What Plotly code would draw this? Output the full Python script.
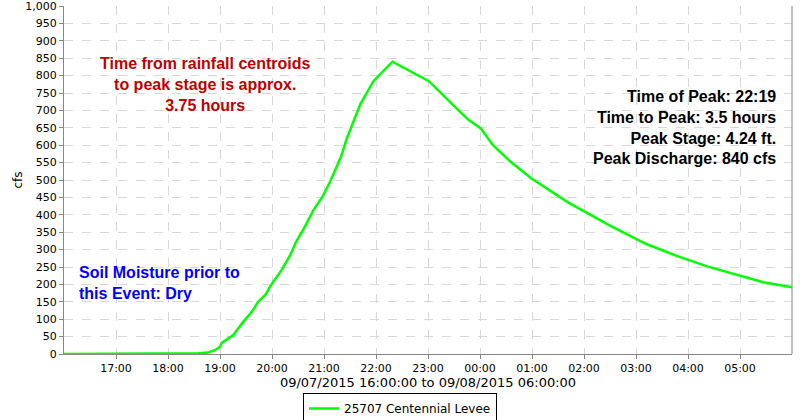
import plotly.graph_objects as go

times = [
    "2015-09-07 16:00", "2015-09-07 17:00", "2015-09-07 18:00", "2015-09-07 18:35",
    "2015-09-07 18:46", "2015-09-07 18:54", "2015-09-07 19:00", "2015-09-07 19:02",
    "2015-09-07 19:08", "2015-09-07 19:15", "2015-09-07 19:27", "2015-09-07 19:37",
    "2015-09-07 19:44", "2015-09-07 19:53", "2015-09-07 19:58", "2015-09-07 20:11",
    "2015-09-07 20:21", "2015-09-07 20:28", "2015-09-07 20:38", "2015-09-07 20:48",
    "2015-09-07 20:59", "2015-09-07 21:07", "2015-09-07 21:20", "2015-09-07 21:26",
    "2015-09-07 21:42", "2015-09-07 21:57", "2015-09-07 22:19", "2015-09-07 23:01",
    "2015-09-07 23:37", "2015-09-07 23:47", "2015-09-08 00:01", "2015-09-08 00:15",
    "2015-09-08 00:35", "2015-09-08 00:59", "2015-09-08 01:42", "2015-09-08 02:03",
    "2015-09-08 02:30", "2015-09-08 03:12", "2015-09-08 03:47", "2015-09-08 04:23",
    "2015-09-08 04:56", "2015-09-08 05:27", "2015-09-08 06:00",
]
flow_cfs = [
    0, 0, 1, 2,
    4, 11, 21, 32,
    42, 54, 93, 122,
    150, 172, 195, 241,
    284, 323, 366, 414,
    455, 495, 569, 617,
    718, 784, 840, 784,
    696, 672, 648, 600,
    553, 505, 435, 407,
    369, 316, 282, 251,
    227, 206, 192,
]

tick_times = [
    "2015-09-07 17:00", "2015-09-07 18:00", "2015-09-07 19:00", "2015-09-07 20:00",
    "2015-09-07 21:00", "2015-09-07 22:00", "2015-09-07 23:00", "2015-09-08 00:00",
    "2015-09-08 01:00", "2015-09-08 02:00", "2015-09-08 03:00", "2015-09-08 04:00",
    "2015-09-08 05:00",
]
tick_labels = ["17:00", "18:00", "19:00", "20:00", "21:00", "22:00", "23:00",
               "00:00", "01:00", "02:00", "03:00", "04:00", "05:00"]
y_ticks = list(range(0, 1001, 50))

series_name = "25707 Centennial Levee"
x_title = "09/07/2015 16:00:00 to 09/08/2015 06:00:00"

fig = go.Figure()
fig.add_trace(go.Scatter(
    x=times, y=flow_cfs, mode="lines", name=series_name,
    line=dict(color="#00ff00", width=2.5),
    cliponaxis=False,
))

fig.update_layout(
    width=800, height=420,
    margin=dict(l=64, r=8, t=6, b=66, autoexpand=False),
    paper_bgcolor="white", plot_bgcolor="white",
    font=dict(family="DejaVu Sans", color="black", size=11),
    showlegend=True,
    legend=dict(
        orientation="h", x=(400 - 64) / 728, xanchor="center",
        y=-(393 - 354) / 348, yanchor="top",
        bordercolor="black", borderwidth=1, font=dict(size=12, family="DejaVu Sans"),
        itemwidth=30, tracegroupgap=0,
    ),
)
fig.update_xaxes(
    type="date", automargin=False,
    range=["2015-09-07 16:00", "2015-09-08 06:00"],
    tickvals=tick_times, ticktext=tick_labels,
    showgrid=True, gridcolor="#d8d8d8", griddash="dash", gridwidth=1,
    showline=True, linecolor="#888888", linewidth=1, mirror=False,
    ticks="outside", ticklen=4, tickcolor="#888888",
    tickfont=dict(size=11),
    title=dict(text=x_title, font=dict(size=13), standoff=1),
    zeroline=False,
)
fig.update_yaxes(
    range=[0, 1000], tickvals=y_ticks, tickformat=",", automargin=False,
    ticklabeloverflow="allow",
    showgrid=True, gridcolor="#d8d8d8", griddash="dash", gridwidth=1,
    showline=True, linecolor="#888888", linewidth=1,
    ticks="outside", ticklen=4, tickcolor="#888888",
    tickfont=dict(size=11),
    title=dict(text="cfs", font=dict(size=12), standoff=0),
    zeroline=False,
)
# right border of plot area
fig.add_shape(type="line", xref="paper", yref="paper", x0=1, x1=1, y0=0, y1=1,
              line=dict(color="#888888", width=1))

fig.add_annotation(
    xref="paper", yref="paper", x=(205 - 64) / 728, y=(354 - 84) / 348,
    text="<b>Time from rainfall centroids<br>to peak stage is approx.<br>3.75 hours</b>",
    showarrow=False, align="center", xanchor="center", yanchor="middle",
    font=dict(family="Liberation Sans", size=16, color="#c00000"),
)
fig.add_annotation(
    xref="paper", yref="paper", x=(778 - 64) / 728, y=(354 - 127) / 348,
    text="<b>Time of Peak: 22:19<br>Time to Peak: 3.5 hours<br>Peak Stage: 4.24 ft.<br>Peak Discharge: 840 cfs</b>",
    showarrow=False, align="right", xanchor="right", yanchor="middle",
    font=dict(family="Liberation Sans", size=16, color="black"),
)
fig.add_annotation(
    xref="paper", yref="paper", x=(77 - 64) / 728, y=(354 - 283) / 348,
    text="<b>Soil Moisture prior to<br>this Event: Dry</b>",
    showarrow=False, align="left", xanchor="left", yanchor="middle",
    font=dict(family="Liberation Sans", size=16, color="#0000ff"),
)

fig.write_html("out.html")
